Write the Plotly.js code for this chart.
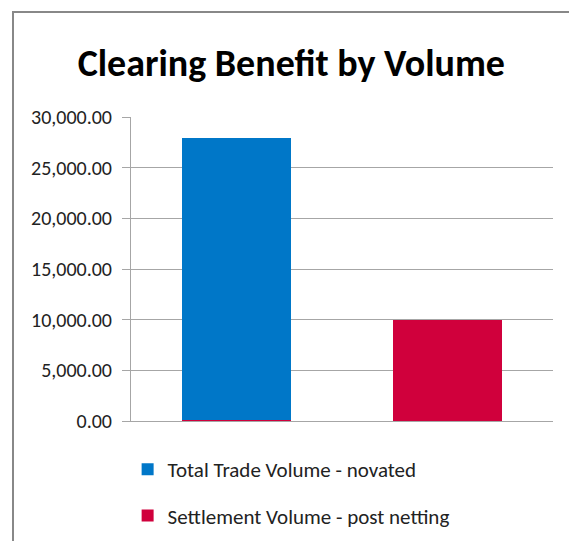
<!DOCTYPE html>
<html>
<head>
<meta charset="utf-8">
<script src="https://cdn.plot.ly/plotly-3.0.1.min.js"></script>
<style>
  html, body { margin: 0; padding: 0; background: #fff; }
  #chart { width: 569px; height: 541px; }
</style>
</head>
<body>
<div id="chart"></div>
<script>
const categories = ['Total Trade Volume - novated', 'Settlement Volume - post netting'];
const seriesNames = ['Total Trade Volume - novated', 'Settlement Volume - post netting'];
const tradeVolume = [27850, 0];
const settlementVolume = [80, 10000];
const yTicks = [0, 5000, 10000, 15000, 20000, 25000, 30000];

const FONT = '"Liberation Sans Narrow", Carlito, Calibri, "Liberation Sans", sans-serif';

const traces = [
  {
    type: 'bar',
    name: seriesNames[1],
    x: categories,
    y: settlementVolume,
    marker: { color: '#D0003C' },
    legendrank: 2,
    legendgroup: 'b',
    hoverinfo: 'y'
  },
  {
    type: 'bar',
    name: seriesNames[0],
    x: categories,
    y: tradeVolume,
    marker: { color: '#0077C8' },
    legendrank: 1,
    legendgroup: 'a',
    hoverinfo: 'y'
  }
];

const layout = {
  width: 569,
  height: 541,
  margin: { l: 131, r: 16, t: 117, b: 120, autoexpand: false },
  paper_bgcolor: '#ffffff',
  plot_bgcolor: '#ffffff',
  barmode: 'stack',
  bargap: 0.485,
  showlegend: true,
  title: {
    text: 'Clearing Benefit by Volume',
    font: { family: FONT, size: 38, color: '#000000', weight: 'bold' },
    x: 0.512,
    xanchor: 'center',
    y: 0.885,
    yanchor: 'middle'
  },
  font: { family: FONT, color: '#222222' },
  xaxis: {
    type: 'category',
    showticklabels: false,
    showgrid: false,
    showline: true,
    linecolor: '#a6a6a6',
    linewidth: 1,
    ticks: '',
    fixedrange: true
  },
  yaxis: {
    range: [0, 30000],
    tickvals: yTicks,
    tickformat: ',.2f',
    tickfont: { family: FONT, size: 20, color: '#222222' },
    showgrid: true,
    gridcolor: '#a6a6a6',
    gridwidth: 1,
    zeroline: false,
    showline: true,
    linecolor: '#a6a6a6',
    linewidth: 1,
    ticks: 'outside',
    ticklen: 8,
    tickcolor: '#a6a6a6',
    ticklabelstandoff: 6,
    fixedrange: true
  },
  legend: {
    orientation: 'v',
    x: -0.008,
    xanchor: 'left',
    yref: 'container',
    y: 1 - 449 / 541,
    yanchor: 'top',
    font: { family: FONT, size: 21, color: '#222222' },
    traceorder: 'grouped',
    tracegroupgap: 16,
    itemwidth: 30,
    bgcolor: 'rgba(0,0,0,0)'
  },
  shapes: [
    {
      type: 'line', xref: 'paper', yref: 'paper',
      x0: (13 - 131) / 422, x1: (13 - 131) / 422,
      y0: (421 - 545) / 304, y1: (421 - 12) / 304,
      line: { color: '#888888', width: 2 }
    },
    {
      type: 'line', xref: 'paper', yref: 'paper',
      x0: (12 - 131) / 422, x1: (575 - 131) / 422,
      y0: (421 - 12) / 304, y1: (421 - 12) / 304,
      line: { color: '#888888', width: 2 }
    }
  ]
};

Plotly.newPlot('chart', traces, layout, { displayModeBar: false, staticPlot: true });
</script>
</body>
</html>
